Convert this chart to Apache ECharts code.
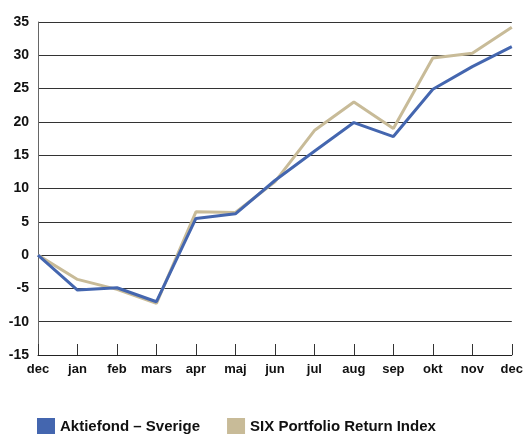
<!DOCTYPE html>
<html>
<head>
<meta charset="utf-8">
<script src="https://cdn.jsdelivr.net/npm/echarts@6/dist/echarts.min.js"></script>
<style>
    html, body { margin: 0; padding: 0; background: #fff; }
    #chart { width: 526px; height: 434px; }
</style>
</head>
<body>
<div id="chart"></div>
<script>
const months = ['dec', 'jan', 'feb', 'mars', 'apr', 'maj', 'jun', 'jul', 'aug', 'sep', 'okt', 'nov', 'dec'];
const aktiefond = [0, -5.25, -4.9, -7.0, 5.5, 6.2, 11.2, 15.6, 19.9, 17.8, 24.9, 28.3, 31.3];
const sixIndex = [0, -3.65, -5.15, -7.25, 6.5, 6.4, 11.0, 18.7, 23.0, 19.0, 29.6, 30.3, 34.2];
const yTicks = { min: -15, max: 35, step: 5 };

const fontFam = '"Liberation Sans", Arial, sans-serif';
const blue = '#4466af';
const tan = '#c8bb98';

var myChart = echarts.init(document.getElementById('chart'));
var option = {
    animation: false,
    grid: { left: 38, right: 11, top: 22, bottom: 79 },
    legend: {
        data: ['Aktiefond – Sverige', 'SIX Portfolio Return Index'],
        left: 32,
        top: 413,
        icon: 'rect',
        itemWidth: 18,
        itemHeight: 17,
        itemGap: 27,
        textStyle: { fontFamily: fontFam, fontWeight: 'bold', fontSize: 15, color: '#111' }
    },
    xAxis: {
        type: 'category',
        data: months,
        boundaryGap: false,
        axisLine: { onZero: false, lineStyle: { color: '#222', width: 1 } },
        axisTick: { show: true, inside: true, length: 11, alignWithLabel: true, lineStyle: { color: '#333' } },
        axisLabel: { fontFamily: fontFam, fontWeight: 'bold', fontSize: 13, color: '#111', margin: 8, interval: 0 },
        splitLine: { show: false }
    },
    yAxis: {
        type: 'value',
        min: yTicks.min,
        max: yTicks.max,
        interval: yTicks.step,
        axisLine: { show: true, lineStyle: { color: '#666' } },
        axisTick: { show: false },
        axisLabel: { fontFamily: fontFam, fontWeight: 'bold', fontSize: 14, color: '#111', margin: 9 },
        splitLine: { lineStyle: { color: '#333', width: 1 } }
    },
    series: [
        {
            name: 'SIX Portfolio Return Index',
            type: 'line',
            data: sixIndex,
            symbol: 'none',
            color: tan,
            lineStyle: { width: 3, color: tan }
        },
        {
            name: 'Aktiefond – Sverige',
            type: 'line',
            data: aktiefond,
            symbol: 'none',
            color: blue,
            lineStyle: { width: 3, color: blue }
        }
    ]
};
myChart.setOption(option);
</script>
</body>
</html>
